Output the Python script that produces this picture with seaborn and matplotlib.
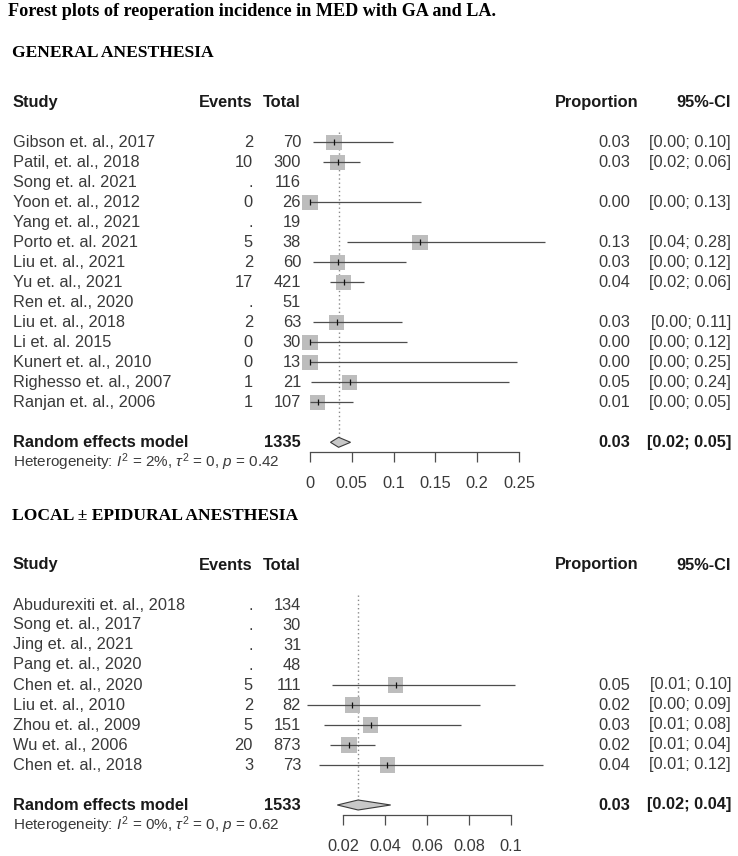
import numpy as np
import pandas as pd
import matplotlib
matplotlib.use("Agg")
import matplotlib.pyplot as plt
import matplotlib.transforms as mtransforms
import seaborn as sns

# ---- data: general anesthesia ----
ga_study = ["Gibson et. al., 2017", "Patil, et. al., 2018", "Song et. al. 2021",
            "Yoon et. al., 2012", "Yang et. al., 2021", "Porto et. al. 2021",
            "Liu et. al., 2021", "Yu et. al., 2021", "Ren et. al., 2020",
            "Liu et. al., 2018", "Li et. al. 2015", "Kunert et. al., 2010",
            "Righesso et. al., 2007", "Ranjan et. al., 2006"]
ga_events = [2, 10, None, 0, None, 5, 2, 17, None, 2, 0, 0, 1, 1]
ga_total = [70, 300, 116, 26, 19, 38, 60, 421, 51, 63, 30, 13, 21, 107]
ga_prop = [0.0286, 0.0333, np.nan, 0.0, np.nan, 0.1316, 0.0333, 0.0404, np.nan,
           0.0317, 0.0, 0.0, 0.0476, 0.0093]
ga_lower = [0.0035, 0.0161, np.nan, 0.0, np.nan, 0.0441, 0.0041, 0.0237, np.nan,
            0.0039, 0.0, 0.0, 0.0012, 0.0002]
ga_upper = [0.0994, 0.0603, np.nan, 0.1323, np.nan, 0.2809, 0.1153, 0.0640, np.nan,
            0.1100, 0.1157, 0.2471, 0.2382, 0.0510]
ga_summary = (0.0342, 0.0245, 0.0485)
ga_het = ("2%", "0", "0.42")
ga_ticks = [0, 0.05, 0.1, 0.15, 0.2, 0.25]
ga_ticklabels = ["0", "0.05", "0.1", "0.15", "0.2", "0.25"]

# ---- data: local +/- epidural anesthesia ----
la_study = ["Abudurexiti et. al., 2018", "Song et. al., 2017", "Jing et. al., 2021",
            "Pang et. al., 2020", "Chen et. al., 2020", "Liu et. al., 2010",
            "Zhou et. al., 2009", "Wu et. al., 2006", "Chen et. al., 2018"]
la_events = [None, None, None, None, 5, 2, 5, 20, 3]
la_total = [134, 30, 31, 48, 111, 82, 151, 873, 73]
la_prop = [np.nan, np.nan, np.nan, np.nan, 0.0451, 0.0244, 0.0331, 0.0229, 0.0411]
la_lower = [np.nan, np.nan, np.nan, np.nan, 0.0148, 0.0030, 0.0108, 0.0140, 0.0086]
la_upper = [np.nan, np.nan, np.nan, np.nan, 0.1020, 0.0853, 0.0760, 0.0352, 0.1152]
la_summary = (0.0272, 0.0173, 0.0427)
la_het = ("0%", "0", "0.62")
la_ticks = [0.02, 0.04, 0.06, 0.08, 0.1]
la_ticklabels = ["0.02", "0.04", "0.06", "0.08", "0.1"]

sns.set_theme(style="white")
plt.rcParams["font.family"] = ["Liberation Sans", "DejaVu Sans"]
plt.rcParams["mathtext.fontset"] = "custom"
plt.rcParams["mathtext.rm"] = "Liberation Sans"
plt.rcParams["mathtext.it"] = "Liberation Sans:italic"

W, H = 738, 856
fig = plt.figure(figsize=(W / 100, H / 100), dpi=100)

TXT = "#3a3a3a"
HDR = "#1a1a1a"
FS = 11.8
SERIF = ["Liberation Serif", "DejaVu Serif"]


def fx(px):
    return px / W


def forest(ax, title, study, events, total, prop, lower, upper, summary, het,
           ticks, ticklabels):
    df = pd.DataFrame({"study": study, "events": events, "total": total,
                       "prop": prop, "lower": lower, "upper": upper})
    df["row"] = np.arange(len(df))
    n = len(df)
    srow = n + 1
    # x in figure fraction, y in data rows
    tr = mtransforms.blended_transform_factory(fig.transFigure, ax.transData)

    # dotted reference line at the pooled estimate
    ax.vlines(summary[0], -0.5, srow, colors="#8a8a8a", linestyles=(0, (1, 2)),
              linewidth=1.0, zorder=1)

    d = df.dropna(subset=["prop"])
    sns.scatterplot(data=d, x="prop", y="row", marker="s", s=120, color="#bdbdbd",
                    edgecolor="none", ax=ax, zorder=2, clip_on=False, legend=False)
    ax.hlines(d["row"], d["lower"], d["upper"], colors="#4d4d4d", linewidth=0.9,
              zorder=3, clip_on=False)
    ax.scatter(d["prop"], d["row"], marker="|", s=18, color="#111111",
               linewidths=0.9, zorder=4, clip_on=False)

    est, lo, hi = summary
    ax.fill([lo, est, hi, est], [srow, srow - 0.25, srow, srow + 0.25],
            facecolor="#c8c8c8", edgecolor="#3a3a3a", linewidth=0.8, zorder=4,
            clip_on=False)

    ax.set_ylim(srow + 0.5, -0.5)
    ax.set_xlim(ticks[0], ticks[-1])
    ax.set_xticks(ticks)
    ax.set_xticklabels(ticklabels)
    ax.set_yticks([])
    ax.set_xlabel("")
    ax.set_ylabel("")
    for side in ["top", "left", "right"]:
        ax.spines[side].set_visible(False)
    ax.spines["bottom"].set_color("#4d4d4d")
    ax.spines["bottom"].set_linewidth(0.9)
    ax.tick_params(axis="x", direction="out", length=7, width=0.9, color="#4d4d4d",
                   labelsize=FS, labelcolor=TXT, pad=10, bottom=True)
    ax.patch.set_alpha(0)

    # section heading and column headers
    ax.text(fx(12), -4.45, title, transform=tr, fontsize=12.6, fontweight="bold",
            family=SERIF, color="black", va="center", ha="left")
    ax.text(fx(13), -2, "Study", transform=tr, fontsize=FS, fontweight="bold",
            color=HDR, va="center", ha="left")
    ax.text(fx(252), -2, "Events", transform=tr, fontsize=FS, fontweight="bold",
            color=HDR, va="center", ha="right")
    ax.text(fx(301), -2, "Total", transform=tr, fontsize=FS, fontweight="bold",
            color=HDR, va="center", ha="right")
    ax.text(fx(638), -2, "Proportion", transform=tr, fontsize=FS,
            fontweight="bold", color=HDR, va="center", ha="right")
    ax.text(fx(731), -2, "95%-CI", transform=tr, fontsize=FS, fontweight="bold",
            color=HDR, va="center", ha="right")

    for _, r in df.iterrows():
        y = r["row"]
        ax.text(fx(13), y, r["study"], transform=tr, fontsize=FS, color=TXT,
                va="center", ha="left")
        ev = "." if pd.isna(r["events"]) else f"{int(r['events'])}"
        ax.text(fx(253), y, ev, transform=tr, fontsize=FS, color=TXT,
                va="center", ha="right")
        ax.text(fx(301), y, f"{int(r['total'])}", transform=tr, fontsize=FS,
                color=TXT, va="center", ha="right")
        if not pd.isna(r["prop"]):
            ax.text(fx(630), y, f"{r['prop']:.2f}", transform=tr, fontsize=FS,
                    color=TXT, va="center", ha="right")
            ax.text(fx(731), y, f"[{r['lower']:.2f}; {r['upper']:.2f}]",
                    transform=tr, fontsize=FS, color=TXT, va="center", ha="right")

    ax.text(fx(13), srow, "Random effects model", transform=tr, fontsize=FS,
            fontweight="bold", color=HDR, va="center", ha="left")
    ax.text(fx(301), srow, f"{int(np.sum(total))}", transform=tr, fontsize=FS,
            fontweight="bold", color=HDR, va="center", ha="right")
    ax.text(fx(630), srow, f"{est:.2f}", transform=tr, fontsize=FS,
            fontweight="bold", color=HDR, va="center", ha="right")
    ax.text(fx(731), srow, f"[{lo:.2f}; {hi:.2f}]", transform=tr, fontsize=FS,
            fontweight="bold", color=HDR, va="center", ha="right")
    i2, t2, p = het
    ax.text(fx(13), srow + 1,
            rf"Heterogeneity: $\mathit{{I}}^2$ = {i2}, $\tau^2$ = {t2}, $\mathit{{p}}$ = {p}",
            transform=tr, fontsize=11, color=TXT, va="center", ha="left")


# top panel: rows start at y=142 px, 20 px per row
ax1 = fig.add_axes([fx(310), 1 - 452.3 / H, fx(519 - 310), 320 / H])
forest(ax1, "GENERAL ANESTHESIA", ga_study, ga_events, ga_total, ga_prop,
       ga_lower, ga_upper, ga_summary, ga_het, ga_ticks, ga_ticklabels)

ax2 = fig.add_axes([fx(343), 1 - 815 / H, fx(511 - 343), 220 / H])
forest(ax2, "LOCAL \u00b1 EPIDURAL ANESTHESIA", la_study, la_events, la_total,
       la_prop, la_lower, la_upper, la_summary, la_het, la_ticks, la_ticklabels)

fig.text(fx(8), 1 - 12 / H, "Forest plots of reoperation incidence in MED with GA and LA.",
         fontsize=13.1, fontweight="bold", family=SERIF, color="black",
         va="center", ha="left")

fig.savefig("out.png", dpi=100)
